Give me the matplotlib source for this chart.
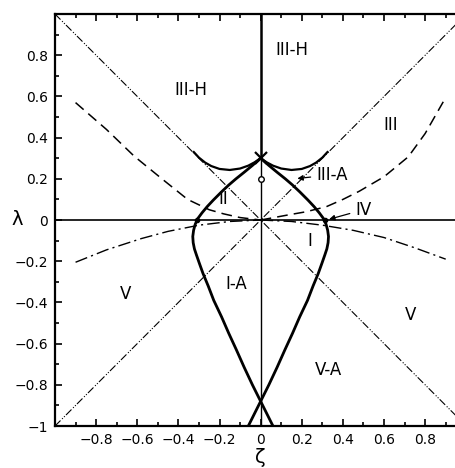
import numpy as np
import matplotlib.pyplot as plt
from matplotlib.ticker import MultipleLocator

# boundary curves (zeta, lambda)
diag = [-1.0, 1.0]

hump_z = [0.0, 0.03, 0.06, 0.10, 0.15, 0.20, 0.24, 0.27, 0.30, 0.325]
hump_l = [0.30, 0.28, 0.264, 0.250, 0.243, 0.248, 0.262, 0.279, 0.303, 0.33]

drop_z = [0.0, -0.04, -0.08, -0.12, -0.155, -0.19, -0.23, -0.26, -0.285,
          -0.305, -0.318, -0.326, -0.33, -0.328, -0.322, -0.312, -0.298,
          -0.28, -0.255, -0.228, -0.19, -0.155, -0.118, -0.08, -0.04, 0.0,
          0.03, 0.06]
drop_l = [0.30, 0.265, 0.232, 0.20, 0.17, 0.137, 0.097, 0.065, 0.035,
          0.008, -0.02, -0.05, -0.08, -0.11, -0.14, -0.17, -0.21,
          -0.26, -0.32, -0.39, -0.47, -0.55, -0.63, -0.715, -0.80, -0.88,
          -0.94, -1.0]

dashL_z = [-0.90, -0.75, -0.615, -0.48, -0.355, -0.25, -0.18, -0.10, 0.0]
dashL_l = [0.57, 0.44, 0.31, 0.20, 0.10, 0.05, 0.03, 0.012, 0.0]
dashR_z = [0.0, 0.135, 0.22, 0.32, 0.40, 0.48, 0.60, 0.718, 0.80, 0.888]
dashR_l = [0.0, 0.025, 0.04, 0.065, 0.10, 0.14, 0.21, 0.307, 0.42, 0.574]

ddL_z = [-0.90, -0.75, -0.58, -0.45, -0.30, -0.15, 0.0]
ddL_l = [-0.205, -0.145, -0.09, -0.055, -0.025, -0.007, 0.0]
ddR_z = [0.0, 0.15, 0.30, 0.45, 0.60, 0.75, 0.90]
ddR_l = [0.0, -0.007, -0.025, -0.05, -0.085, -0.135, -0.19]

labels = ["III-H", "III-H", "III", "II", "I", "I-A", "V", "V", "V-A"]
lab_z = [-0.34, 0.15, 0.63, -0.18, 0.24, -0.12, -0.655, 0.73, 0.33]
lab_l = [0.63, 0.825, 0.46, 0.10, -0.10, -0.31, -0.36, -0.46, -0.73]

fig = plt.figure(figsize=(4.56, 4.68), dpi=100)
ax = fig.add_axes([0.1206, 0.0897, 0.8794, 0.8803])

ddd = (0, (7, 2, 1, 1.5, 1, 1.5))
ax.plot(diag, [1, -1], color='k', lw=0.8, ls=ddd)
ax.plot(diag, [-1, 1], color='k', lw=0.8, ls=ddd)

ax.axhline(0, color='k', lw=1.2)
ax.plot([0, 0], [-1, 0.3], color='k', lw=1.0)
ax.plot([0, 0], [0.3, 1], color='k', lw=1.8)

ax.plot(hump_z, hump_l, color='k', lw=1.6)
ax.plot([-z for z in hump_z], hump_l, color='k', lw=1.6)
ax.plot(drop_z, drop_l, color='k', lw=2.0)
ax.plot([-z for z in drop_z], drop_l, color='k', lw=2.0)

ax.plot(dashL_z, dashL_l, color='k', lw=1.1, ls=(0, (7, 4)))
ax.plot(dashR_z, dashR_l, color='k', lw=1.1, ls=(0, (7, 4)))
ax.plot(ddL_z, ddL_l, color='k', lw=1.0, ls=(0, (9, 3, 1.5, 3)))
ax.plot(ddR_z, ddR_l, color='k', lw=1.0, ls=(0, (9, 3, 1.5, 3)))

ax.plot(0, 0.3, marker='x', ms=8, mew=1.6, color='k')
ax.plot(0, 0.2, marker='o', ms=4, mfc='white', mec='k', mew=1.0)
ax.plot([0.315, -0.31], [0, 0], 'o', ms=3, color='k')

for t, z, l in zip(labels, lab_z, lab_l):
    ax.text(z, l, t, fontsize=12, ha='center', va='center')

ax.annotate("III-A", xy=(0.165, 0.20), xytext=(0.27, 0.22), fontsize=12,
            ha='left', va='center',
            arrowprops=dict(arrowstyle='-|>', color='k', lw=0.9, mutation_scale=8))
ax.annotate("IV", xy=(0.32, 0.0), xytext=(0.46, 0.05), fontsize=12,
            ha='left', va='center',
            arrowprops=dict(arrowstyle='-|>', color='k', lw=0.9, mutation_scale=8))

ax.set_xlim(-1, 0.95)
ax.set_ylim(-1, 1)
ax.xaxis.set_minor_locator(MultipleLocator(0.1))
ax.yaxis.set_minor_locator(MultipleLocator(0.1))
ax.set_xticks([-0.8, -0.6, -0.4, -0.2, 0, 0.2, 0.4, 0.6, 0.8])
ax.set_xticklabels(["\u22120.8", "\u22120.6", "\u22120.4", "\u22120.2", "0",
                    "0.2", "0.4", "0.6", "0.8"])
ax.set_yticks([-1, -0.8, -0.6, -0.4, -0.2, 0, 0.2, 0.4, 0.6, 0.8])
ax.set_yticklabels(["\u22121", "\u22120.8", "\u22120.6", "\u22120.4", "\u22120.2",
                    "0", "0.2", "0.4", "0.6", "0.8"])
ax.tick_params(which='both', direction='in', top=True, right=False,
               labelsize=10, width=1.2)
ax.tick_params(which='major', length=5, pad=5)
ax.tick_params(which='minor', length=3)
ax.spines['right'].set_visible(False)
for s in ['left', 'bottom', 'top']:
    ax.spines[s].set_linewidth(1.6)

fig.text(0.570, 0.022, "\u03b6", fontsize=14, ha='center', va='center')
fig.text(0.037, 0.530, "\u03bb", fontsize=14, ha='center', va='center')

fig.savefig("out.png", dpi=100)
